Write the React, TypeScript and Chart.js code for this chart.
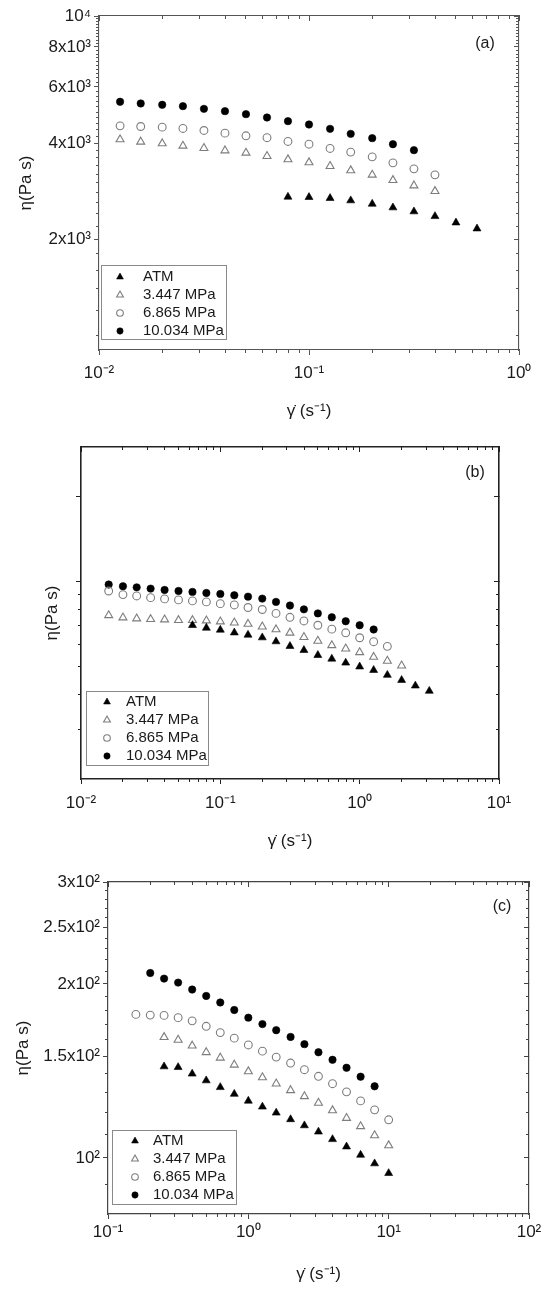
import { useEffect, useRef } from 'react';
import Chart from 'chart.js/auto';
import { drawPoint } from 'chart.js/helpers';

const FONT = "'Liberation Sans', Arial, Helvetica, sans-serif";
const INK = '#1a1a1a';
const GREY = '#7d7d7d';

const seriesNames = ['ATM', '3.447 MPa', '6.865 MPa', '10.034 MPa'];

// ---- panel (a)
const rateA_atm = [0.0794, 0.1, 0.126, 0.158, 0.2, 0.251, 0.316, 0.398, 0.501, 0.631];
const etaA_atm = [2714, 2708, 2689, 2644, 2580, 2513, 2442, 2360, 2254, 2159];
const rateA_p1 = [0.0126, 0.0158, 0.02, 0.0251, 0.0316, 0.0398, 0.0501, 0.0631, 0.0794, 0.1, 0.126, 0.158, 0.2, 0.251, 0.316, 0.398];
const etaA_p1 = [4105, 4037, 3988, 3921, 3856, 3791, 3728, 3640, 3554, 3478, 3387, 3283, 3181, 3061, 2945, 2827];
const rateA_p2 = [0.0126, 0.0158, 0.02, 0.0251, 0.0316, 0.0398, 0.0501, 0.0631, 0.0794, 0.1, 0.126, 0.158, 0.2, 0.251, 0.316, 0.398];
const etaA_p2 = [4530, 4508, 4487, 4445, 4381, 4297, 4216, 4158, 4048, 3969, 3848, 3748, 3622, 3469, 3322, 3181];
const rateA_p3 = [0.0126, 0.0158, 0.02, 0.0251, 0.0316, 0.0398, 0.0501, 0.0631, 0.0794, 0.1, 0.126, 0.158, 0.2, 0.251, 0.316];
const etaA_p3 = [5387, 5323, 5271, 5221, 5121, 5036, 4928, 4810, 4686, 4574, 4433, 4276, 4145, 3969, 3801];
const xTicksA = [0.01, 0.1, 1];
const xLabelsA = ['10⁻²', '10⁻¹', '10⁰'];
const yTicksA = [2000, 4000, 6000, 8000, 10000];
const yLabelsA = ['2x10³', '4x10³', '6x10³', '8x10³', '10⁴'];

// ---- panel (b)
const rateB_atm = [0.0631, 0.0794, 0.1, 0.126, 0.158, 0.2, 0.251, 0.316, 0.398, 0.501, 0.631, 0.794, 1, 1.26, 1.58, 2, 2.51, 3.16];
const etaB_atm = [701, 686, 675, 660, 648, 634, 614, 591, 572, 549, 533, 516, 500, 486, 467, 448, 428, 410];
const rateB_p1 = [0.0158, 0.02, 0.0251, 0.0316, 0.0398, 0.0501, 0.0631, 0.0794, 0.1, 0.126, 0.158, 0.2, 0.251, 0.316, 0.398, 0.501, 0.631, 0.794, 1, 1.26, 1.58, 2];
const etaB_p1 = [760, 746, 740, 736, 734, 730, 730, 728, 722, 716, 708, 693, 677, 659, 636, 617, 595, 579, 562, 541, 524, 504];
const rateB_p2 = [0.0158, 0.02, 0.0251, 0.0316, 0.0398, 0.0501, 0.0631, 0.0794, 0.1, 0.126, 0.158, 0.2, 0.251, 0.316, 0.398, 0.501, 0.631, 0.794, 1, 1.26, 1.58];
const etaB_p2 = [927, 900, 890, 878, 869, 862, 855, 848, 836, 827, 810, 797, 772, 748, 726, 701, 679, 659, 633, 613, 590];
const rateB_p3 = [0.0158, 0.02, 0.0251, 0.0316, 0.0398, 0.0501, 0.0631, 0.0794, 0.1, 0.126, 0.158, 0.2, 0.251, 0.316, 0.398, 0.501, 0.631, 0.794, 1, 1.26];
const etaB_p3 = [977, 963, 955, 945, 935, 927, 920, 912, 905, 895, 885, 871, 848, 823, 798, 772, 748, 724, 701, 677];
const xTicksB = [0.01, 0.1, 1, 10];
const xLabelsB = ['10⁻²', '10⁻¹', '10⁰', '10¹'];
const yTicksB = [1000, 2000];

// ---- panel (c)
const rateC_atm = [0.251, 0.316, 0.398, 0.501, 0.631, 0.794, 1, 1.26, 1.58, 2, 2.51, 3.16, 3.98, 5.01, 6.31, 7.94, 10];
const etaC_atm = [143.9, 143.5, 139.8, 136.1, 132.5, 129.0, 125.5, 122.6, 119.7, 116.6, 113.8, 111.0, 107.7, 104.6, 101.2, 97.8, 94.1];
const rateC_p1 = [0.251, 0.316, 0.398, 0.501, 0.631, 0.794, 1, 1.26, 1.58, 2, 2.51, 3.16, 3.98, 5.01, 6.31, 7.94, 10];
const etaC_p1 = [161.7, 160.0, 156.3, 152.3, 149.0, 144.9, 141.1, 137.8, 134.4, 130.9, 127.8, 124.5, 120.8, 117.2, 113.4, 109.4, 105.1];
const rateC_p2 = [0.158, 0.2, 0.251, 0.316, 0.398, 0.501, 0.631, 0.794, 1, 1.26, 1.58, 2, 2.51, 3.16, 3.98, 5.01, 6.31, 7.94, 10];
const etaC_p2 = [177.1, 176.6, 176.4, 174.8, 172.6, 168.9, 164.7, 161.1, 156.8, 153.0, 149.4, 145.9, 142.1, 138.4, 134.4, 130.1, 125.5, 121.1, 116.4];
const rateC_p3 = [0.2, 0.251, 0.316, 0.398, 0.501, 0.631, 0.794, 1, 1.26, 1.58, 2, 2.51, 3.16, 3.98, 5.01, 6.31, 7.94];
const etaC_p3 = [208.8, 204.2, 201.0, 195.5, 190.6, 185.7, 180.2, 174.8, 170.4, 166.3, 161.9, 157.3, 152.3, 147.8, 143.2, 138.2, 133.0];
const xTicksC = [0.1, 1, 10, 100];
const xLabelsC = ['10⁻¹', '10⁰', '10¹', '10²'];
const yTicksC = [100, 150, 200, 250, 300];
const yLabelsC = ['10²', '1.5x10²', '2x10²', '2.5x10²', '3x10²'];

// marker look per series (ATM, 3.447, 6.865, 10.034)
const markers = [
  { pointStyle: 'triangle', pointRadius: 4.6, backgroundColor: '#000', borderColor: '#000', borderWidth: 0.6 },
  { pointStyle: 'triangle', pointRadius: 4.6, backgroundColor: 'rgba(0,0,0,0)', borderColor: GREY, borderWidth: 1.1 },
  { pointStyle: 'circle', pointRadius: 3.9, backgroundColor: 'rgba(0,0,0,0)', borderColor: GREY, borderWidth: 1.1 },
  { pointStyle: 'circle', pointRadius: 3.7, backgroundColor: '#000', borderColor: '#000', borderWidth: 0.6 },
];

const decadeMinors = (majors: number[]) =>
  majors.slice(0, -1).flatMap((d) => [2, 3, 4, 5, 6, 7, 8, 9].map((m) => +(m * d).toPrecision(3)));

const stepMinors = (from: number, to: number, step: number, majors: number[]) => {
  const out: number[] = [];
  for (let v = from; v <= to; v += step) if (!majors.includes(v)) out.push(v);
  return out;
};

interface PanelSpec {
  height: number;
  tag: string;
  tagX: number;
  tagY: number;
  series: { x: number[]; y: number[] }[];
  xMin: number;
  xMax: number;
  xTicks: number[];
  xLabels: string[];
  yMin: number;
  yMax: number;
  yTicks: number[];
  yLabels: string[] | null;
  yMinor: number[];
  area: { left: number; top: number; right: number; bottom: number };
  axisColor: string;
  axisWidth: number;
  xTickPad: number;
  xTitlePad: number;
  yTitlePad: number;
  legend: { left: number; top: number; width: number; height: number; first: number; step: number; markerDx: number; textDx: number };
}

const panels: PanelSpec[] = [
  {
    height: 430, tag: '(a)', tagX: 485, tagY: 44,
    series: [
      { x: rateA_atm, y: etaA_atm }, { x: rateA_p1, y: etaA_p1 },
      { x: rateA_p2, y: etaA_p2 }, { x: rateA_p3, y: etaA_p3 },
    ],
    xMin: 0.01, xMax: 1, xTicks: xTicksA, xLabels: xLabelsA,
    yMin: 900, yMax: 10000, yTicks: yTicksA, yLabels: yLabelsA,
    yMinor: stepMinors(1000, 9800, 200, yTicksA),
    area: { left: 99, top: 16, right: 519, bottom: 350 },
    axisColor: '#555', axisWidth: 1.1, xTickPad: 8, xTitlePad: 8, yTitlePad: 16,
    legend: { left: 101, top: 265, width: 125, height: 74, first: 12, step: 18, markerDx: 19, textDx: 42 },
  },
  {
    height: 430, tag: '(b)', tagX: 475, tagY: 43,
    series: [
      { x: rateB_atm, y: etaB_atm }, { x: rateB_p1, y: etaB_p1 },
      { x: rateB_p2, y: etaB_p2 }, { x: rateB_p3, y: etaB_p3 },
    ],
    xMin: 0.01, xMax: 10, xTicks: xTicksB, xLabels: xLabelsB,
    yMin: 200, yMax: 3000, yTicks: yTicksB, yLabels: null,
    yMinor: stepMinors(300, 900, 100, []),
    area: { left: 81, top: 17, right: 499, bottom: 349 },
    axisColor: '#222', axisWidth: 1.6, xTickPad: 9, xTitlePad: 8, yTitlePad: 42,
    legend: { left: 86, top: 261, width: 122, height: 74, first: 11, step: 18, markerDx: 21, textDx: 40 },
  },
  {
    height: 434, tag: '(c)', tagX: 502, tagY: 47,
    series: [
      { x: rateC_atm, y: etaC_atm }, { x: rateC_p1, y: etaC_p1 },
      { x: rateC_p2, y: etaC_p2 }, { x: rateC_p3, y: etaC_p3 },
    ],
    xMin: 0.1, xMax: 100, xTicks: xTicksC, xLabels: xLabelsC,
    yMin: 80, yMax: 300, yTicks: yTicksC, yLabels: yLabelsC,
    yMinor: stepMinors(90, 290, 10, yTicksC),
    area: { left: 108, top: 22, right: 529, bottom: 354 },
    axisColor: '#444', axisWidth: 1.2, xTickPad: 3, xTitlePad: 9, yTitlePad: 13,
    legend: { left: 112, top: 270, width: 124, height: 74, first: 11, step: 18, markerDx: 23, textDx: 41 },
  },
];

const setTicks = (values: number[]) => (scale: any) => {
  scale.ticks = values.map((value) => ({ value }));
};
const fixWidth = (w: number) => (scale: any) => {
  scale.width = w;
};
const fixHeight = (h: number) => (scale: any) => {
  scale.height = h;
};

function buildScales(s: PanelSpec) {
  const font = { family: FONT, size: 17 };
  const grid = (len: number) => ({
    drawOnChartArea: false, drawTicks: true, tickLength: len,
    color: s.axisColor, tickColor: s.axisColor, tickWidth: 1,
  });
  const edge = { display: true, color: s.axisColor, width: s.axisWidth };
  const noEdge = { display: false };
  const hide = { display: false };
  const xBase = { type: 'logarithmic', axis: 'x', min: s.xMin, max: s.xMax };
  const yBase = { type: 'logarithmic', axis: 'y', min: s.yMin, max: s.yMax };
  const xMinor = decadeMinors(s.xTicks);
  const { left, right, bottom } = s.area;

  return {
    x: {
      ...xBase, position: 'bottom', weight: 2,
      afterBuildTicks: setTicks(s.xTicks), afterFit: fixHeight(s.height - bottom),
      ticks: {
        autoSkip: false, maxRotation: 0, minRotation: 0, padding: s.xTickPad, color: INK, font,
        callback: (_v: any, i: number) => s.xLabels[i],
      },
      grid: grid(5), border: edge,
      title: { display: true, text: 'γ̇ (s⁻¹)', color: INK, font, padding: { top: 0, bottom: s.xTitlePad } },
    },
    xMinor: {
      ...xBase, position: 'bottom', weight: 1,
      afterBuildTicks: setTicks(xMinor), afterFit: fixHeight(0),
      ticks: hide, grid: grid(3), border: noEdge,
    },
    xTop: {
      ...xBase, position: 'top', weight: 2,
      afterBuildTicks: setTicks(s.xTicks), afterFit: fixHeight(0),
      ticks: hide, grid: grid(-5), border: edge,
    },
    xTopMinor: {
      ...xBase, position: 'top', weight: 1,
      afterBuildTicks: setTicks(xMinor), afterFit: fixHeight(0),
      ticks: hide, grid: grid(-3), border: noEdge,
    },
    y: {
      ...yBase, position: 'left', weight: 2,
      afterBuildTicks: setTicks(s.yTicks), afterFit: fixWidth(left),
      ticks: {
        display: s.yLabels !== null, autoSkip: false, padding: 3, color: INK, font,
        callback: (_v: any, i: number) => (s.yLabels ? s.yLabels[i] : ''),
      },
      grid: grid(5), border: edge,
      title: { display: true, text: 'η(Pa s)', color: INK, font, padding: { top: s.yTitlePad, bottom: 0 } },
    },
    yMinor: {
      ...yBase, position: 'left', weight: 1,
      afterBuildTicks: setTicks(s.yMinor), afterFit: fixWidth(0),
      ticks: hide, grid: grid(3), border: noEdge,
    },
    yRight: {
      ...yBase, position: 'right', weight: 2,
      afterBuildTicks: setTicks(s.yTicks), afterFit: fixWidth(0),
      ticks: hide, grid: grid(-5), border: edge,
    },
    yRightMinor: {
      ...yBase, position: 'right', weight: 1,
      afterBuildTicks: setTicks(s.yMinor), afterFit: fixWidth(0),
      ticks: hide, grid: grid(-3), border: noEdge,
    },
    _pad: { top: s.area.top, right: 550 - right },
  };
}

// legend box and panel tag, drawn inside the plot
const decor = (s: PanelSpec) => ({
  id: 'decor',
  afterDraw(chart: any) {
    const ctx = chart.ctx;
    const L = s.legend;
    ctx.save();
    ctx.fillStyle = '#fff';
    ctx.fillRect(L.left, L.top, L.width, L.height);
    ctx.strokeStyle = '#8a8a8a';
    ctx.lineWidth = 1;
    ctx.strokeRect(L.left + 0.5, L.top + 0.5, L.width, L.height);
    ctx.font = `15px ${FONT}`;
    ctx.textBaseline = 'middle';
    ctx.textAlign = 'left';
    chart.data.datasets.forEach((ds: any, i: number) => {
      const y = L.top + L.first + i * L.step;
      ctx.fillStyle = ds.backgroundColor;
      ctx.strokeStyle = ds.borderColor;
      ctx.lineWidth = ds.borderWidth;
      drawPoint(ctx, { pointStyle: ds.pointStyle, radius: ds.pointRadius * 0.85, borderWidth: ds.borderWidth, rotation: 0 } as any, L.left + L.markerDx, y);
      ctx.fillStyle = INK;
      ctx.fillText(ds.label, L.left + L.textDx, y);
    });
    ctx.font = `16px ${FONT}`;
    ctx.textAlign = 'center';
    ctx.fillStyle = INK;
    ctx.fillText(s.tag, s.tagX, s.tagY);
    ctx.restore();
  },
});

const RheoPanel: React.FC<{ spec: PanelSpec }> = ({ spec }) => {
  const chartRef = useRef<HTMLCanvasElement>(null);

  useEffect(() => {
    const { _pad, ...scales } = buildScales(spec);
    const config: any = {
      type: 'scatter',
      data: {
        datasets: spec.series.map((s, i) => ({
          label: seriesNames[i],
          data: s.x.map((x, j) => ({ x, y: s.y[j] })),
          xAxisID: 'x',
          yAxisID: 'y',
          showLine: false,
          ...markers[i],
        })),
      },
      options: {
        animation: false,
        responsive: true,
        maintainAspectRatio: false,
        events: [],
        layout: { padding: { left: 0, bottom: 0, top: _pad.top, right: _pad.right } },
        plugins: { legend: { display: false }, tooltip: { enabled: false }, title: { display: false } },
        scales,
      },
      plugins: [decor(spec)],
    };

    const myChart = new Chart(chartRef.current as HTMLCanvasElement, config);
    return () => {
      myChart.destroy();
    };
  }, [spec]);

  return (
    <div style={{ position: 'relative', width: 550, height: spec.height }}>
      <canvas ref={chartRef}></canvas>
    </div>
  );
};

export default function App() {
  return (
    <div style={{ position: 'absolute', left: 0, top: 0, width: 550, background: '#fff' }}>
      {panels.map((p) => (
        <RheoPanel key={p.tag} spec={p} />
      ))}
    </div>
  );
}
